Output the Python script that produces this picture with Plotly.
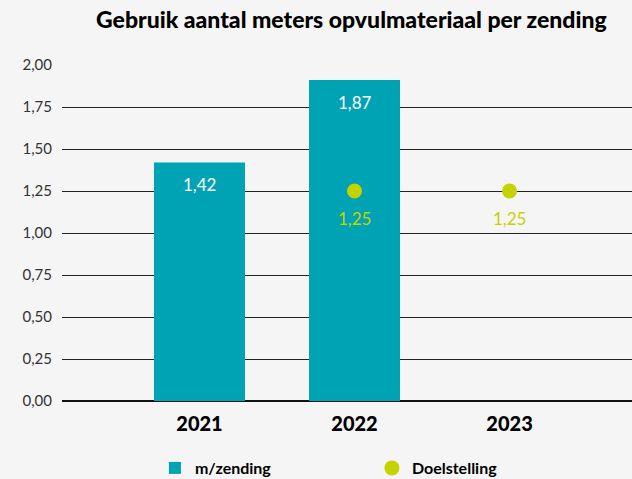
import plotly.graph_objects as go

categories = ["2021", "2022", "2023"]
bar_years = ["2021", "2022"]
bar_values = [1.42, 1.91]
bar_labels = ["1,42", "1,87"]
goal_years = ["2022", "2023"]
goal_values = [1.25, 1.25]
goal_labels = ["1,25", "1,25"]
y_ticks = [0, 0.25, 0.5, 0.75, 1.0, 1.25, 1.5, 1.75, 2.0]

BAR_COLOR = "#00A3B4"
DOT_COLOR = "#C5D200"
BG = "#F5F5F5"
FONT = "Lato"

fig = go.Figure()
fig.add_trace(go.Bar(
    x=bar_years, y=bar_values, name="m/zending",
    marker=dict(color=BAR_COLOR, line=dict(width=0)),
    width=0.587, hoverinfo="skip",
))
fig.add_trace(go.Scatter(
    x=goal_years, y=goal_values, name="Doelstelling", mode="markers",
    marker=dict(color=DOT_COLOR, size=15), hoverinfo="skip",
))

annotations = []
for x, y, t in zip(bar_years, bar_values, bar_labels):
    annotations.append(dict(x=categories.index(x), y=y, xref="x", yref="y", text=t,
                            showarrow=False, yanchor="middle", yshift=-22,
                            font=dict(family=FONT, size=17, color="white")))
for x, y, t in zip(goal_years, goal_values, goal_labels):
    annotations.append(dict(x=categories.index(x), y=y, xref="x", yref="y", text=t,
                            showarrow=False, yanchor="middle", yshift=-27,
                            font=dict(family=FONT, size=17, color=DOT_COLOR)))

fig.update_layout(
    width=632, height=479,
    paper_bgcolor=BG, plot_bgcolor=BG,
    margin=dict(l=62, r=0, t=65, b=78),
    separators=",.",
    font=dict(family=FONT, color="#333"),
    title=dict(text="Gebruik aantal meters opvulmateriaal per zending",
               x=0.556, xanchor="center", y=0.958, yanchor="middle",
               font=dict(family=FONT, size=23, color="#000", weight=900)),
    xaxis=dict(type="category", categoryorder="array", categoryarray=categories,
               range=[-0.887, 2.79], showgrid=False, zeroline=False,
               showline=False, ticks="", ticklabelstandoff=9,
               tickfont=dict(family=FONT, size=20, color="#000", weight=900)),
    yaxis=dict(range=[0, 2.0], tickvals=y_ticks, tickformat=".2f",
               showgrid=True, gridcolor="#222", gridwidth=1,
               zeroline=True, zerolinecolor="#111", zerolinewidth=1.5,
               showline=False, ticks="", ticklabelstandoff=9,
               tickfont=dict(family=FONT, size=15, color="#333")),
    showlegend=True,
    legend=dict(orientation="h", xref="paper", x=0.163, xanchor="left",
                yref="container", y=0.023, yanchor="middle",
                entrywidth=172, font=dict(family=FONT, size=16, color="#000", weight="bold"),
                bgcolor="rgba(0,0,0,0)"),
    annotations=annotations,
)

fig.write_html("out.html", config={"displayModeBar": False},
               post_script="document.body.style.margin='0';document.body.style.background='#F5F5F5';")
